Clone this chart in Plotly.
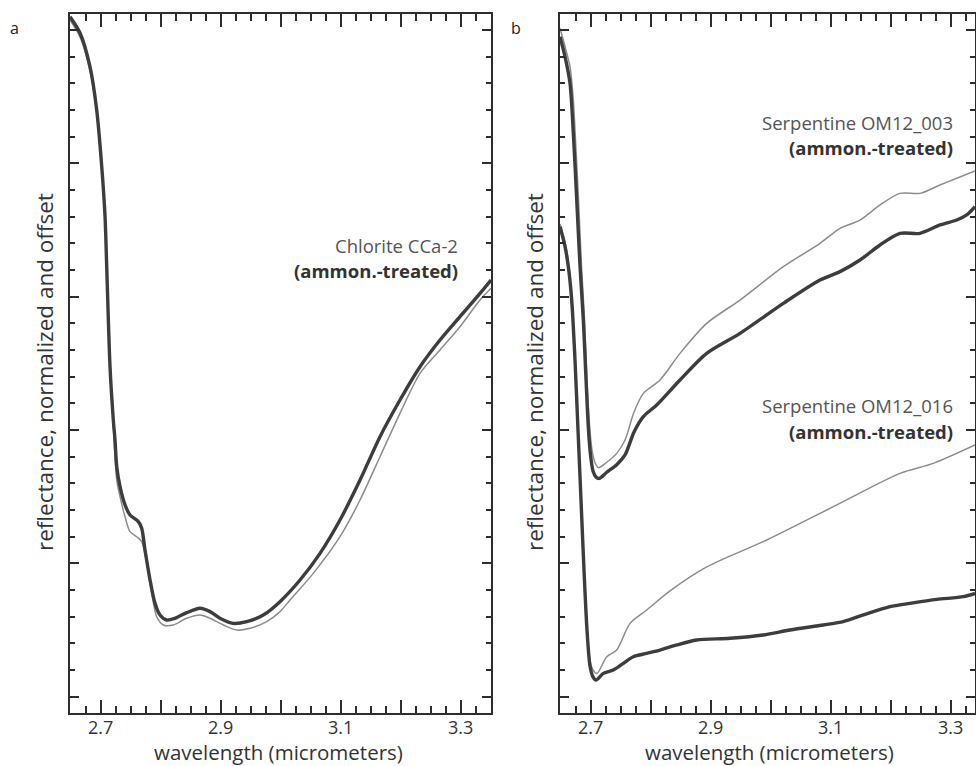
import plotly.graph_objects as go

# ---------------- data (wavelength in micrometers, reflectance normalized & offset) -------------
# Panel a: Chlorite CCa-2
chl_treated_x = [2.6488, 2.6655, 2.6822, 2.6933, 2.7017, 2.7072, 2.7100, 2.7155, 2.7210, 2.7238,
                 2.7267, 2.7322, 2.7405, 2.7488, 2.7627, 2.7683, 2.7738, 2.7822, 2.7905, 2.7988,
                 2.8100, 2.8238, 2.8433, 2.8655, 2.8822, 2.8988, 2.9210, 2.9433, 2.9710, 2.9988,
                 3.0322, 3.0655, 3.0988, 3.1322, 3.1655, 3.1988, 3.2322, 3.2655, 3.2988, 3.3322,
                 3.3505]
chl_treated_y = [0.5100, 0.4978, 0.4723, 0.4400, 0.3975, 0.3600, 0.3225, 0.2475, 0.2075, 0.1925,
                 0.1725, 0.1575, 0.1438, 0.1363, 0.1313, 0.1263, 0.1100, 0.0875, 0.0700, 0.0613,
                 0.0575, 0.0588, 0.0630, 0.0663, 0.0638, 0.0588, 0.0550, 0.0563, 0.0613, 0.0713,
                 0.0875, 0.1075, 0.1325, 0.1625, 0.1950, 0.2225, 0.2475, 0.2675, 0.2850, 0.3025,
                 0.3125]
chl_untreated_x = [2.6488, 2.6655, 2.6822, 2.6933, 2.7017, 2.7072, 2.7100, 2.7155, 2.7210, 2.7267,
                   2.7322, 2.7405, 2.7488, 2.7600, 2.7683, 2.7767, 2.7850, 2.7933, 2.8043, 2.8210,
                   2.8433, 2.8655, 2.8822, 2.9043, 2.9267, 2.9488, 2.9767, 2.9988, 3.0155, 3.0543,
                   3.0988, 3.1322, 3.1655, 3.1988, 3.2322, 3.2655, 3.2988, 3.3322, 3.3505]
chl_untreated_y = [0.5075, 0.4948, 0.4693, 0.4378, 0.3950, 0.3575, 0.3200, 0.2465, 0.2038, 0.1625,
                   0.1500, 0.1350, 0.1238, 0.1200, 0.1163, 0.1000, 0.0775, 0.0600, 0.0538, 0.0538,
                   0.0588, 0.0613, 0.0588, 0.0538, 0.0500, 0.0513, 0.0563, 0.0638, 0.0725, 0.0925,
                   0.1200, 0.1475, 0.1800, 0.2125, 0.2425, 0.2600, 0.2775, 0.2975, 0.3063]

# Panel b: Serpentine OM12_003 (upper pair)
s003_treated_x = [2.6488, 2.6572, 2.6655, 2.6710, 2.6767, 2.6822, 2.6877, 2.6922, 2.6963, 2.6997,
                  2.7038, 2.7088, 2.7138, 2.7272, 2.7433, 2.7572, 2.7722, 2.7877, 2.8100, 2.8488,
                  2.8933, 2.9488, 3.0210, 3.0822, 3.1155, 3.1488, 3.1822, 3.2155, 3.2488, 3.2822,
                  3.3100, 3.3267, 3.3405]
s003_treated_y = [0.4950, 0.4800, 0.4600, 0.4228, 0.3725, 0.3225, 0.2825, 0.2375, 0.2000, 0.1813,
                  0.1693, 0.1648, 0.1637, 0.1685, 0.1740, 0.1813, 0.1985, 0.2100, 0.2188, 0.2375,
                  0.2575, 0.2725, 0.2950, 0.3125, 0.3188, 0.3275, 0.3388, 0.3475, 0.3475, 0.3538,
                  0.3575, 0.3613, 0.3675]
s003_untreated_x = [2.6488, 2.6572, 2.6655, 2.6710, 2.6755, 2.6797, 2.6847, 2.6897, 2.6938, 2.6980,
                    2.7022, 2.7072, 2.7130, 2.7272, 2.7433, 2.7572, 2.7722, 2.7877, 2.8155, 2.8488,
                    2.8933, 2.9488, 3.0210, 3.0822, 3.1155, 3.1488, 3.1822, 3.2155, 3.2488, 3.2822,
                    3.3100, 3.3405]
s003_untreated_y = [0.5013, 0.4875, 0.4725, 0.4475, 0.4100, 0.3725, 0.3225, 0.2825, 0.2375, 0.2038,
                    0.1850, 0.1755, 0.1718, 0.1760, 0.1825, 0.1925, 0.2135, 0.2275, 0.2375, 0.2575,
                    0.2800, 0.2975, 0.3225, 0.3400, 0.3513, 0.3575, 0.3688, 0.3775, 0.3775, 0.3838,
                    0.3888, 0.3943]

# Panel b: Serpentine OM12_016 (lower pair)
s016_treated_x = [2.6488, 2.6572, 2.6627, 2.6683, 2.6738, 2.6788, 2.6838, 2.6888, 2.6938, 2.6988,
                  2.7038, 2.7088, 2.7210, 2.7377, 2.7543, 2.7710, 2.7933, 2.8155, 2.8433, 2.8767,
                  2.9322, 2.9877, 3.0322, 3.0877, 3.1210, 3.1543, 3.1988, 3.2322, 3.2767, 3.3210,
                  3.3405]
s016_treated_y = [0.3525, 0.3375, 0.3225, 0.2975, 0.2525, 0.2000, 0.1475, 0.0950, 0.0500, 0.0230,
                  0.0148, 0.0125, 0.0175, 0.0200, 0.0250, 0.0300, 0.0325, 0.0350, 0.0388, 0.0425,
                  0.0438, 0.0463, 0.0500, 0.0538, 0.0563, 0.0613, 0.0675, 0.0700, 0.0730, 0.0750,
                  0.0775]
s016_untreated_x = [2.6488, 2.6572, 2.6627, 2.6683, 2.6738, 2.6788, 2.6838, 2.6888, 2.6938, 2.6988,
                    2.7038, 2.7105, 2.7267, 2.7433, 2.7655, 2.7933, 2.8322, 2.8933, 2.9933, 3.1043,
                    3.2155, 3.2710, 3.3405]
s016_untreated_y = [0.3545, 0.3410, 0.3260, 0.3005, 0.2563, 0.2038, 0.1513, 0.0988, 0.0538, 0.0275,
                    0.0200, 0.0175, 0.0300, 0.0350, 0.0550, 0.0650, 0.0793, 0.0973, 0.1175, 0.1425,
                    0.1675, 0.1750, 0.1888]

x_major = [2.6, 2.7, 2.8, 2.9, 3.0, 3.1, 3.2, 3.3]
x_labels = ["", "2.7", "", "2.9", "", "3.1", "", "3.3"]
y_major = [0.0, 0.1, 0.2, 0.3, 0.4, 0.5]

# ---------------- figure ----------------
W, H = 976, 766
DARK = "#3d3d3d"
GRAY = "#8c8c8c"
AX = "#2e2e2e"
FONT = "Open Sans"

def px(x):
    return x / W

def py(y):
    return 1 - y / H

fig = go.Figure()

def add(x, y, xa, ya, treated):
    fig.add_trace(go.Scatter(
        x=x, y=y, xaxis=xa, yaxis=ya, mode="lines",
        line=dict(color=DARK if treated else GRAY, width=3.4 if treated else 1.5,
                  shape="spline", smoothing=0.8),
        showlegend=False, hoverinfo="skip"))

# untreated first so treated sits on top
add(chl_untreated_x, chl_untreated_y, "x", "y", False)
add(chl_treated_x, chl_treated_y, "x", "y", True)
add(s003_untreated_x, s003_untreated_y, "x2", "y2", False)
add(s003_treated_x, s003_treated_y, "x2", "y2", True)
add(s016_untreated_x, s016_untreated_y, "x2", "y2", False)
add(s016_treated_x, s016_treated_y, "x2", "y2", True)

ydom = [py(713), py(14)]
yrange = [-0.01223, 0.51203]
xdom_a, xrng_a = [px(70), px(491)], [2.6488, 3.3505]
xdom_b, xrng_b = [px(560), px(975)], [2.6488, 3.3405]

common = dict(showline=True, linecolor=AX, linewidth=2, mirror="ticks", ticks="inside",
              tickcolor=AX, showgrid=False, zeroline=False, fixedrange=True)

def xaxis(dom, rng, anchor):
    return dict(common, domain=dom, range=rng, anchor=anchor, tickmode="array",
                tickvals=x_major, ticktext=x_labels, ticklen=13, tickwidth=1.7,
                ticklabelstandoff=-3,
                tickfont=dict(family=FONT, size=18, color="#333333"),
                minor=dict(ticks="inside", ticklen=7, tickcolor=AX, tickwidth=1.6, dtick=0.025))

def yaxis(anchor):
    return dict(common, domain=ydom, range=yrange, anchor=anchor, tickmode="array",
                tickvals=y_major, ticklen=9, tickwidth=1.7, showticklabels=False,
                minor=dict(ticks="inside", ticklen=5, tickcolor=AX, tickwidth=1.6, dtick=0.02))

fig.update_layout(
    width=W, height=H, margin=dict(l=0, r=0, t=0, b=0),
    paper_bgcolor="white", plot_bgcolor="white",
    xaxis=xaxis(xdom_a, xrng_a, "y"), yaxis=yaxis("x"),
    xaxis2=xaxis(xdom_b, xrng_b, "y2"), yaxis2=yaxis("x2"),
)

ann = []

def text(x, y, s, size, color="#333333", xanchor="center", angle=0):
    ann.append(dict(x=px(x), y=py(y), xref="paper", yref="paper", showarrow=False,
                    text=s, textangle=angle, xanchor=xanchor, yanchor="middle",
                    font=dict(family=FONT, size=size, color=color)))

# panel letters
text(14, 28, "a", 16, "#222222")
text(516, 28, "b", 16, "#222222")
# axis titles
text(44, 372, "reflectance, normalized and offset", 22.5, "#333333", angle=-90)
text(534, 372, "reflectance, normalized and offset", 22.5, "#333333", angle=-90)
text(278, 752, "wavelength (micrometers)", 20.5, "#333333")
text(769, 752, "wavelength (micrometers)", 20.5, "#333333")
# sample labels
text(460, 245, "Chlorite CCa-2", 18.5, "#555555", xanchor="right")
text(460, 271, "<b>(ammon.-treated)</b>", 18.5, "#333333", xanchor="right")
text(955, 122, "Serpentine OM12_003", 18.5, "#555555", xanchor="right")
text(955, 148, "<b>(ammon.-treated)</b>", 18.5, "#333333", xanchor="right")
text(955, 405, "Serpentine OM12_016", 18.5, "#555555", xanchor="right")
text(955, 431, "<b>(ammon.-treated)</b>", 18.5, "#333333", xanchor="right")

fig.update_layout(annotations=ann)
fig.write_html("out.html")
